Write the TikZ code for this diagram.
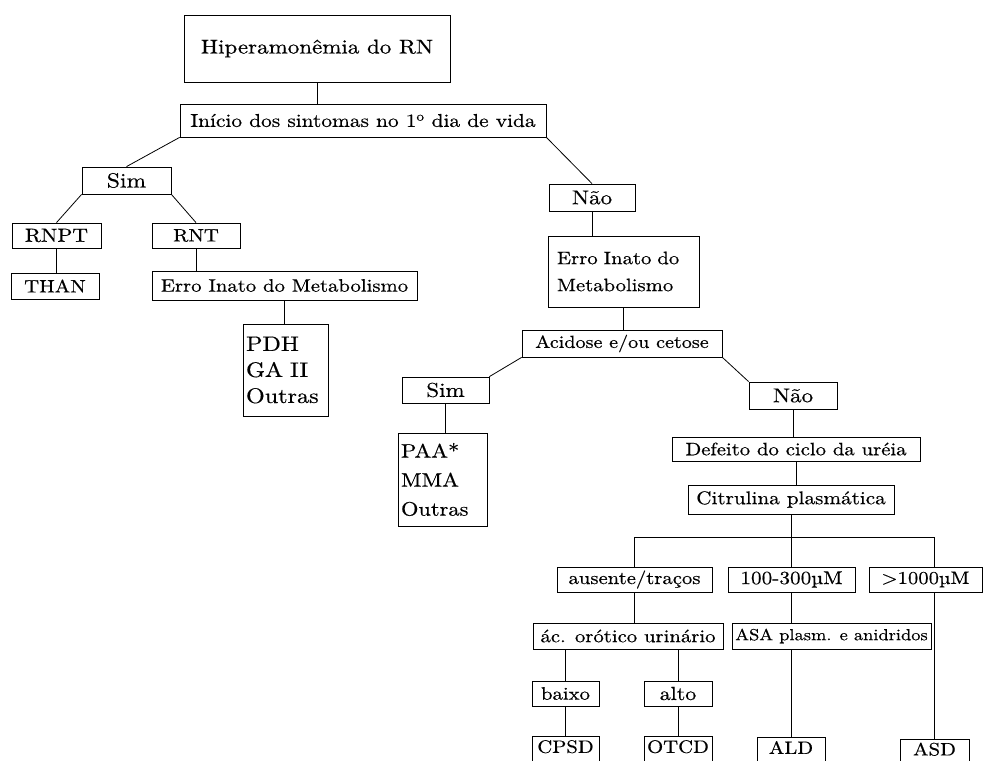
\documentclass[tikz,border=0pt]{standalone}
\usepackage{fontspec}
\setmainfont{lmroman10-regular.otf}[FakeStretch=1.15,FakeBold=0.5]
\usepackage{tikz}

\begin{document}
\begin{tikzpicture}[x=1pt,y=-1pt,
  box/.style={draw,line width=0.8pt,inner sep=0pt,minimum height=25pt,font=\fontsize{18}{27}\selectfont},
  sz/.style 2 args={font=\fontsize{#1}{#2}\selectfont},
  cut/.style={minimum height=26pt,text depth=6pt},
  link/.style={line width=0.8pt}]
  \useasboundingbox (0,0) rectangle (990,760);
  \clip (0,0) rectangle (990,760);
  % ramo superior
  \node[box,sz={20}{26},minimum width=266pt,minimum height=67pt] (hiper) at (317,48.5) {Hiperamonêmia do RN};
  \node[box,sz={18.6}{26},minimum width=366pt,minimum height=33pt] (inicio) at (363,120.5) {Início dos sintomas no 1\textsuperscript{o} dia de vida};
  \node[box,sz={20.5}{26},minimum width=89pt,minimum height=27pt] (simA) at (126.5,180.5) {Sim};
  \node[box,sz={20}{26},minimum width=86pt,minimum height=27pt] (naoA) at (592,197.5) {Não};
  % lado Sim
  \node[box,sz={19}{26},minimum width=89pt] (rnpt) at (56.5,235.5) {RNPT};
  \node[box,minimum width=88pt] (rnt) at (196,235.5) {RNT};
  \node[box,minimum width=88pt,minimum height=26pt] (than) at (55,286) {THAN};
  \node[box,minimum width=265pt,minimum height=29pt] (erroA) at (284.5,285.5) {Erro Inato do Metabolismo};
  \node[box,sz={21}{26},align=left,text width=79pt,inner xsep=3pt,minimum height=92pt] (pdh) at (285.5,370) {PDH\\GA II\\Outras};
  % lado Não
  \node[box,align=left,text width=133pt,inner xsep=9pt,minimum height=71pt] (erroB) at (623.5,271.5) {Erro Inato do\\Metabolismo};
  \node[box,sz={17.5}{26},minimum width=200pt,minimum height=27pt] (acid) at (622,343.5) {Acidose e/ou cetose};
  \node[box,sz={20}{26},minimum width=87pt,minimum height=26pt] (simB) at (445.5,390) {Sim};
  \node[box,sz={20}{26},minimum width=88pt,minimum height=27pt] (naoB) at (793,395.5) {Não};
  \node[box,sz={19.5}{29},align=left,text width=83pt,inner xsep=3pt,minimum height=93pt] (paa) at (442.5,479.5) {PAA*\\MMA\\Outras};
  \node[box,minimum width=248pt,minimum height=24pt] (defeito) at (796,449) {Defeito do ciclo da uréia};
  \node[box,sz={18.4}{26},minimum width=206pt,minimum height=29pt] (citr) at (791,499.5) {Citrulina plasmática};
  % citrulina
  \node[box,minimum width=155pt] (ausente) at (634.5,579.5) {ausente/traços};
  \node[box,sz={18.5}{26},minimum width=127pt] (medio) at (791.5,579.5) {100-300µM};
  \node[box,minimum width=113pt] (elevado) at (925.5,579.5) {>1000µM};
  \node[box,minimum width=190pt,minimum height=26pt] (orotico) at (628,636) {ác. orótico urinário};
  \node[box,sz={16}{26},minimum width=199pt,minimum height=26pt] (asa) at (831.5,636) {ASA plasm. e anidridos};
  \node[box,minimum width=67pt] (baixo) at (565.5,693.5) {baixo};
  \node[box,sz={19}{26},minimum width=68pt] (alto) at (678,693.5) {alto};
  \node[box,cut,minimum width=67pt] (cpsd) at (565.5,749.5) {CPSD};
  \node[box,cut,minimum width=68pt] (otcd) at (678,749.5) {OTCD};
  \node[box,cut,minimum width=68pt] (ald) at (791,750.5) {ALD};
  \node[box,cut,minimum width=69pt] (asd) at (934.5,752) {ASD};
  \coordinate (barra) at (0,537);

  \draw[link] (hiper) -- (hiper |- inicio.north);
  \draw[link] (inicio.south west) -- (simA.north);
  \draw[link] (inicio.south east) -- (naoA.north);
  \draw[link] (simA.south west) -- (rnpt.north);
  \draw[link] (simA.south east) -- (rnt.north);
  \draw[link] (rnpt.south) -- (rnpt.south |- than.north);
  \draw[link] (rnt.south) -- (rnt.south |- erroA.north);
  \draw[link] (erroA.south) -- (erroA.south |- pdh.north);
  \draw[link] (naoA.south) -- (naoA.south |- erroB.north);
  \draw[link] (erroB.south) -- (erroB.south |- acid.north);
  \draw[link] (acid.south west) -- (simB.north east);
  \draw[link] (acid.south east) -- (naoB.north west);
  \draw[link] (simB.south) -- (simB.south |- paa.north);
  \draw[link] (naoB.south) -- (naoB.south |- defeito.north);
  \draw[link] (defeito.south) -- (defeito.south |- citr.north);
  \draw[link] (citr.south) -- (citr.south |- medio.north);
  \draw[link] (ausente.north) |- (barra -| asd.north) -- (asd.north |- elevado.north);
  \draw[link] (ausente.south) -- (ausente.south |- orotico.north);
  \draw[link] (medio.south) -- (medio.south |- asa.north);
  \draw[link] (baixo.north |- orotico.south) -- (baixo.north);
  \draw[link] (alto.north |- orotico.south) -- (alto.north);
  \draw[link] (baixo.south) -- (cpsd.north);
  \draw[link] (alto.south) -- (otcd.north);
  \draw[link] (ald.north |- asa.south) -- (ald.north);
  \draw[link] (asd.north |- elevado.south) -- (asd.north);
\end{tikzpicture}
\end{document}
